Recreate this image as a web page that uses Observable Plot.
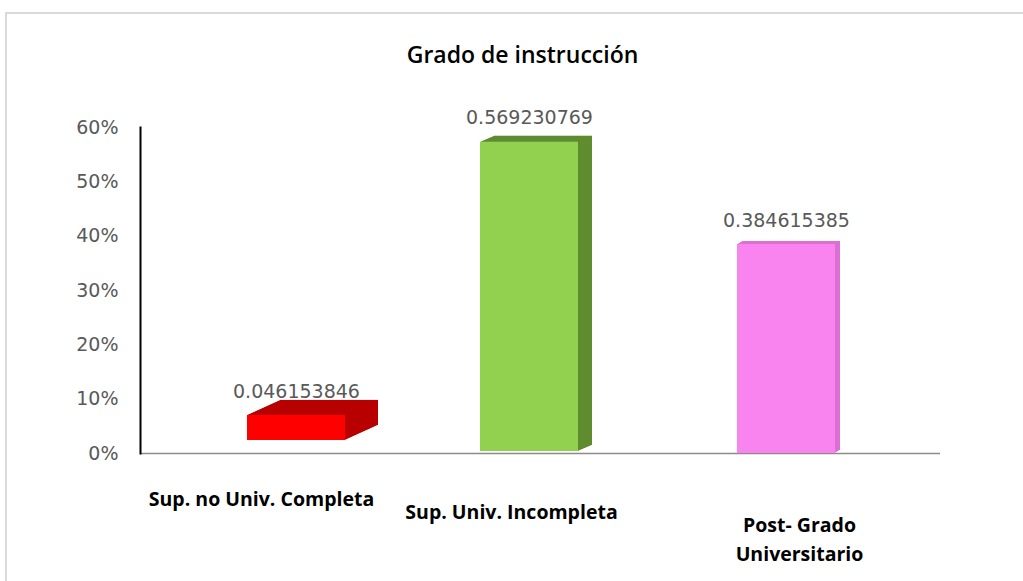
<!DOCTYPE html>
<html>
<head>
<meta charset="utf-8">
<script src="https://cdn.jsdelivr.net/npm/d3@7"></script>
<script src="https://cdn.jsdelivr.net/npm/@observablehq/plot@0.6"></script>
<style>
  html, body { margin: 0; padding: 0; background: #fff; overflow: hidden; }
  #wrap { position: relative; width: 1023px; height: 581px; }
  #border { position: absolute; left: 5px; top: 12px; width: 1100px; height: 700px;
            border-top: 2px solid #d9d9d9; border-left: 2px solid #d9d9d9; }
  #title { position: absolute; left: 0; top: 38px; width: 1045px; text-align: center;
           font-family: "Open Sans", sans-serif; font-size: 23px; font-weight: 600; color: #000; }
  #chart { position: absolute; left: 0; top: 0; }
</style>
</head>
<body>
<div id="wrap">
  <div id="border"></div>
  <div id="title">Grado de instrucción</div>
  <div id="chart"></div>
</div>
<script>
const categories = ["Sup. no Univ. Completa", "Sup. Univ. Incompleta", "Post- Grado\nUniversitario"];
const values = [0.046153846, 0.569230769, 0.384615385];
const valueLabels = ["0.046153846", "0.569230769", "0.384615385"];
const yTicks = [0, 0.1, 0.2, 0.3, 0.4, 0.5, 0.6];
const frontColors = ["#ff0000", "#92d050", "#f984ef"];
const sideColors = ["#b80000", "#5f8c2f", "#dc70d2"];

const rows = categories.map((c, i) => ({cat: c, value: values[i], label: valueLabels[i], front: frontColors[i], side: sideColors[i]}));

// per-bar perspective tweaks (style only)
const look = [
  {dx: 0,   dy: -13, depthX: 33, depthY: -15, ldx: -35, ldy: 43},
  {dx: -11, dy: -2,  depthX: 14, depthY: -6,  ldx: -29, ldy: 56},
  {dx: 2,   dy: 0,   depthX: 5,  depthY: -3,  ldx: 15,  ldy: 84}
];

const marks = [
  Plot.ruleY([0], {stroke: "#8c8c8c", strokeWidth: 1.5}),
  Plot.frame({anchor: "left", stroke: "#000", strokeWidth: 2}),
  Plot.axisY({ticks: yTicks, tickFormat: d3.format(".0%"), tickSize: 0, tickPadding: 22,
              fontSize: 19, fontFamily: "DejaVu Sans", fill: "#595959", label: null})
];
rows.forEach((r, i) => {
  const L = look[i];
  const steps = Math.max(Math.abs(L.depthX), Math.abs(L.depthY));
  for (let s = steps; s >= 1; s--) {
    marks.push(Plot.barY([r], {x: "cat", y: "value", fill: "side",
      dx: L.dx + L.depthX * s / steps, dy: L.dy + L.depthY * s / steps}));
  }
  marks.push(Plot.barY([r], {x: "cat", y: "value", fill: "front", dx: L.dx, dy: L.dy}));
  marks.push(Plot.text([r], {x: "cat", y: "value", text: "label", dx: L.dx, dy: L.dy - 24,
    fontSize: 19, fontFamily: "DejaVu Sans", fill: "#595959"}));
  marks.push(Plot.text([r], {x: "cat", y: () => 0, text: "cat", dx: L.ldx, dy: L.ldy,
    fontSize: 19.5, fontWeight: "bold", fontFamily: "Open Sans", fill: "#000", lineHeight: 1.45}));
});

const chart = Plot.plot({
  width: 1023,
  height: 581,
  marginLeft: 140,
  marginRight: 83,
  marginTop: 127,
  marginBottom: 128,
  style: {background: "transparent", overflow: "visible"},
  x: {domain: categories, paddingInner: 0.6, paddingOuter: 0.433, axis: null},
  y: {domain: [0, 0.6], axis: null},
  marks
});
document.getElementById("chart").appendChild(chart);
</script>
</body>
</html>
